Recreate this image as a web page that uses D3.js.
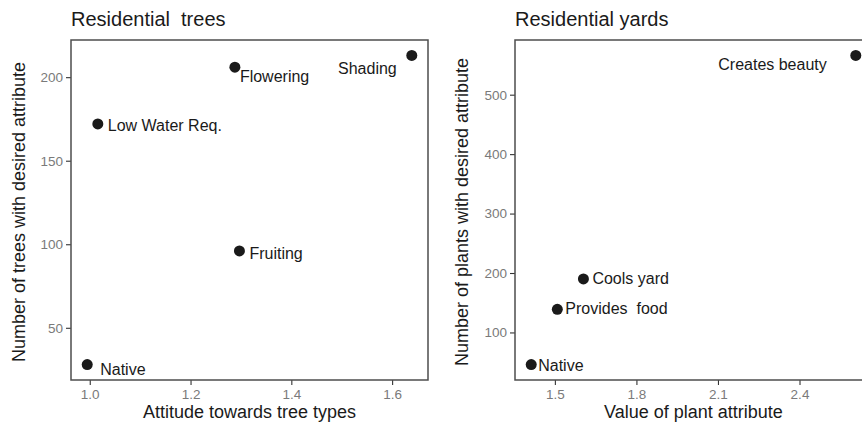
<!DOCTYPE html>
<html>
<head>
<meta charset="utf-8">
<script src="https://cdn.jsdelivr.net/npm/d3@7"></script>
<style>
  body { margin: 0; background: #fff; }
  text { font-family: "Liberation Sans", Arial, sans-serif; white-space: pre; }
</style>
</head>
<body>
<div id="chart"></div>
<script>
// residential trees panel
var treeNames = ["Native", "Low Water Req.", "Flowering", "Fruiting", "Shading"];
var treeAttitude = [0.995, 1.016, 1.288, 1.297, 1.639];
var treeCount = [28, 172, 206, 96, 213];
var treeXTicks = [1.0, 1.2, 1.4, 1.6];
var treeYTicks = [50, 100, 150, 200];

// residential yards panel
var yardNames = ["Native", "Provides  food", "Cools yard", "Creates beauty"];
var yardValue = [1.413, 1.509, 1.605, 2.607];
var yardCount = [46, 139, 190, 566];
var yardXTicks = [1.5, 1.8, 2.1, 2.4];
var yardYTicks = [100, 200, 300, 400, 500];

// label placement (like ggrepel output), dx/dy in px + anchor
var treeNudge = [[13, 10, "start"], [10, 7, "start"], [5, 15, "start"], [10, 8, "start"], [-15, 19, "end"]];
var yardNudge = [[7, 6, "start"], [8, 5, "start"], [9, 5, "start"], [-29, 15, "end"]];

var svg = d3.select('#chart').append('svg')
    .attr('width', 862)
    .attr('height', 426);

function expand(vals) {
    var ext = d3.extent(vals);
    var pad = (ext[1] - ext[0]) * 0.05;
    return [ext[0] - pad, ext[1] + pad];
}

function panel(opt) {
    var x = d3.scaleLinear().domain(expand(opt.xs)).range([opt.left, opt.left + 357]);
    var y = d3.scaleLinear().domain(expand(opt.ys)).range([380, 40]);

    // title
    svg.append('text')
        .attr('x', opt.left)
        .attr('y', 26)
        .attr('font-size', 20)
        .attr('fill', '#1a1a1a')
        .text(opt.title);

    // axes
    var xAxis = d3.axisBottom(x).tickValues(opt.xTicks).tickFormat(d3.format('.1f')).tickSizeOuter(0).tickSize(5).tickPadding(4);
    var yAxis = d3.axisLeft(y).tickValues(opt.yTicks).tickSizeOuter(0).tickSize(5).tickPadding(3);

    var gx = svg.append('g')
        .attr('transform', 'translate(0,380)')
        .call(xAxis);
    var gy = svg.append('g')
        .attr('transform', 'translate(' + opt.left + ',0)')
        .call(yAxis);

    [gx, gy].forEach(function (g) {
        g.select('.domain').remove();
        g.selectAll('.tick line').attr('stroke', '#333').attr('stroke-width', 1.1);
        g.selectAll('.tick text')
            .attr('fill', '#7a7a7a')
            .attr('font-size', 13.5)
            .attr('font-family', '"Liberation Sans", Arial, sans-serif');
    });

    // panel frame
    svg.append('rect')
        .attr('x', opt.left)
        .attr('y', 40)
        .attr('width', 357)
        .attr('height', 340)
        .attr('fill', 'none')
        .attr('stroke', '#4d4d4d')
        .attr('stroke-width', 1.5);

    // axis titles
    svg.append('text')
        .attr('x', opt.left + 357 / 2)
        .attr('y', 418)
        .attr('text-anchor', 'middle')
        .attr('font-size', 18)
        .attr('fill', '#1a1a1a')
        .text(opt.xTitle);

    svg.append('text')
        .attr('transform', 'translate(' + opt.yTitleX + ',212) rotate(-90)')
        .attr('text-anchor', 'middle')
        .attr('font-size', 18)
        .attr('fill', '#1a1a1a')
        .text(opt.yTitle);

    // points
    svg.append('g').selectAll('circle')
        .data(opt.names)
        .join('circle')
        .attr('cx', function (d, i) { return x(opt.xs[i]); })
        .attr('cy', function (d, i) { return y(opt.ys[i]); })
        .attr('r', 5.5)
        .attr('fill', '#1a1a1a');

    // labels
    svg.append('g').selectAll('text')
        .data(opt.names)
        .join('text')
        .attr('x', function (d, i) { return x(opt.xs[i]) + opt.nudge[i][0]; })
        .attr('y', function (d, i) { return y(opt.ys[i]) + opt.nudge[i][1]; })
        .attr('text-anchor', function (d, i) { return opt.nudge[i][2]; })
        .attr('font-size', 16)
        .attr('fill', '#1a1a1a')
        .text(function (d) { return d; });
}

panel({
    left: 71,
    title: 'Residential  trees',
    xs: treeAttitude, ys: treeCount, names: treeNames, nudge: treeNudge,
    xTicks: treeXTicks, yTicks: treeYTicks,
    xTitle: 'Attitude towards tree types',
    yTitle: 'Number of trees with desired attribute',
    yTitleX: 25
});

panel({
    left: 515,
    title: 'Residential yards',
    xs: yardValue, ys: yardCount, names: yardNames, nudge: yardNudge,
    xTicks: yardXTicks, yTicks: yardYTicks,
    xTitle: 'Value of plant attribute',
    yTitle: 'Number of plants with desired attribute',
    yTitleX: 468
});
</script>
</body>
</html>
